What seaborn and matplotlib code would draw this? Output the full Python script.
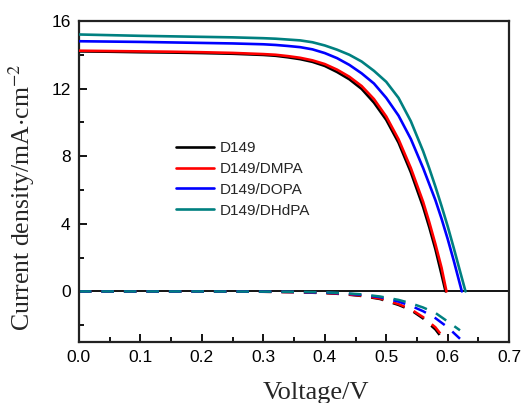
import matplotlib
matplotlib.use("Agg")
import matplotlib.pyplot as plt
import seaborn as sns
from matplotlib.ticker import MultipleLocator, FormatStrFormatter

# illuminated J-V curves (voltage in V, current density in mA/cm2)
v_grid = [0, 0.05, 0.1, 0.15, 0.2, 0.25, 0.3, 0.32, 0.34, 0.36, 0.38, 0.40,
          0.42, 0.44, 0.46, 0.48, 0.50, 0.52, 0.54, 0.56, 0.57, 0.58, 0.59]

v_d149 = v_grid + [0.5965]
j_d149 = [14.2, 14.18, 14.15, 14.13, 14.1, 14.06, 13.99, 13.94, 13.85, 13.74,
          13.58, 13.34, 12.98, 12.55, 11.98, 11.17, 10.15, 8.8, 7.05, 5.0,
          3.8, 2.5, 1.0, 0]

v_dmpa = v_grid + [0.598]
j_dmpa = [14.24, 14.22, 14.2, 14.18, 14.15, 14.11, 14.04, 14.0, 13.92, 13.82,
          13.67, 13.45, 13.12, 12.7, 12.15, 11.38, 10.35, 9.0, 7.3, 5.3,
          4.1, 2.8, 1.4, 0]

v_dopa = v_grid + [0.60, 0.61, 0.623]
j_dopa = [14.8, 14.78, 14.76, 14.73, 14.7, 14.67, 14.62, 14.58, 14.52, 14.45,
          14.32, 14.1, 13.8, 13.4, 12.9, 12.3, 11.45, 10.4, 9.02, 7.3,
          6.35, 5.4, 4.3, 3.1, 1.8, 0]

v_dhdpa = v_grid + [0.60, 0.61, 0.62, 0.629]
j_dhdpa = [15.2, 15.16, 15.12, 15.09, 15.06, 15.03, 14.98, 14.95, 14.9, 14.85,
           14.74, 14.55, 14.3, 14.0, 13.6, 13.05, 12.4, 11.45, 10.07, 8.3,
           7.28, 6.2, 5.05, 3.85, 2.55, 1.2, 0]

# dark curves
v_dark = [0, 0.1, 0.2, 0.3, 0.35, 0.4, 0.43, 0.46, 0.49, 0.52, 0.54, 0.56, 0.58, 0.60, 0.62]
jd_d149 = [0, 0, 0, -0.02, -0.045, -0.1, -0.16, -0.27, -0.45, -0.8, -1.1, -1.6, -2.25, -3.2, -4.2]
jd_dmpa = [0, 0, 0, -0.02, -0.04, -0.09, -0.15, -0.25, -0.42, -0.75, -1.05, -1.52, -2.12, -3.05, -4.1]
jd_dopa = [0, 0, 0, -0.01, -0.03, -0.07, -0.12, -0.2, -0.34, -0.6, -0.85, -1.17, -1.58, -2.12, -2.8]
jd_dhdpa = [0, 0, 0, -0.01, -0.02, -0.05, -0.1, -0.17, -0.3, -0.5, -0.7, -0.95, -1.27, -1.78, -2.3]

labels = ["D149", "D149/DMPA", "D149/DOPA", "D149/DHdPA"]
colors = ["#000000", "#ff0000", "#0000ff", "#008080"]

sns.set_style("ticks")
plt.rcParams["font.family"] = ["Liberation Sans", "DejaVu Sans"]
plt.rcParams["mathtext.fontset"] = "stix"

fig = plt.figure(figsize=(5.26, 4.03), dpi=100)
ax = fig.add_axes([0.150, 0.151, 0.818, 0.797])

ax.axhline(0, color="black", lw=1.3, zorder=1)

light = [(v_d149, j_d149), (v_dmpa, j_dmpa), (v_dopa, j_dopa), (v_dhdpa, j_dhdpa)]
dark = [jd_d149, jd_dmpa, jd_dopa, jd_dhdpa]
for (v, j), jd, lab, c in zip(light, dark, labels, colors):
    sns.lineplot(x=v, y=j, color=c, lw=1.9, label=lab, ax=ax, sort=False, zorder=3)
    sns.lineplot(x=v_dark, y=jd, color=c, lw=1.8, ls=(0, (5, 4)), ax=ax,
                 sort=False, zorder=2)

ax.set_xlim(0, 0.7)
ax.set_ylim(-3, 16)
ax.xaxis.set_major_locator(MultipleLocator(0.1))
ax.xaxis.set_minor_locator(MultipleLocator(0.05))
ax.yaxis.set_major_locator(MultipleLocator(4))
ax.yaxis.set_minor_locator(MultipleLocator(2))
ax.xaxis.set_major_formatter(FormatStrFormatter("%.1f"))
ax.tick_params(which="both", direction="in", top=False, right=False,
               width=1.3, labelsize=12.5, colors="black")
ax.tick_params(which="major", length=6, pad=6)
ax.tick_params(which="minor", length=3.5)
for s in ax.spines.values():
    s.set_linewidth(1.6)
    s.set_color("#222222")

ax.set_xlabel("Voltage/V", family="Liberation Serif", fontsize=19, va="top")
ax.set_ylabel("Current density/mA$\\cdot$cm$^{-2}$", family="Liberation Serif",
              fontsize=18.5, va="bottom")
ax.xaxis.set_label_coords(0.55, -0.125)
ax.yaxis.set_label_coords(-0.098, 0.452)

ax.legend(loc="upper left", bbox_to_anchor=(0.226, 0.626), frameon=False,
          fontsize=11, handlelength=2.5, handletextpad=0.35, labelspacing=0.45,
          borderpad=0, borderaxespad=0)

fig.savefig("out.png", dpi=100)
